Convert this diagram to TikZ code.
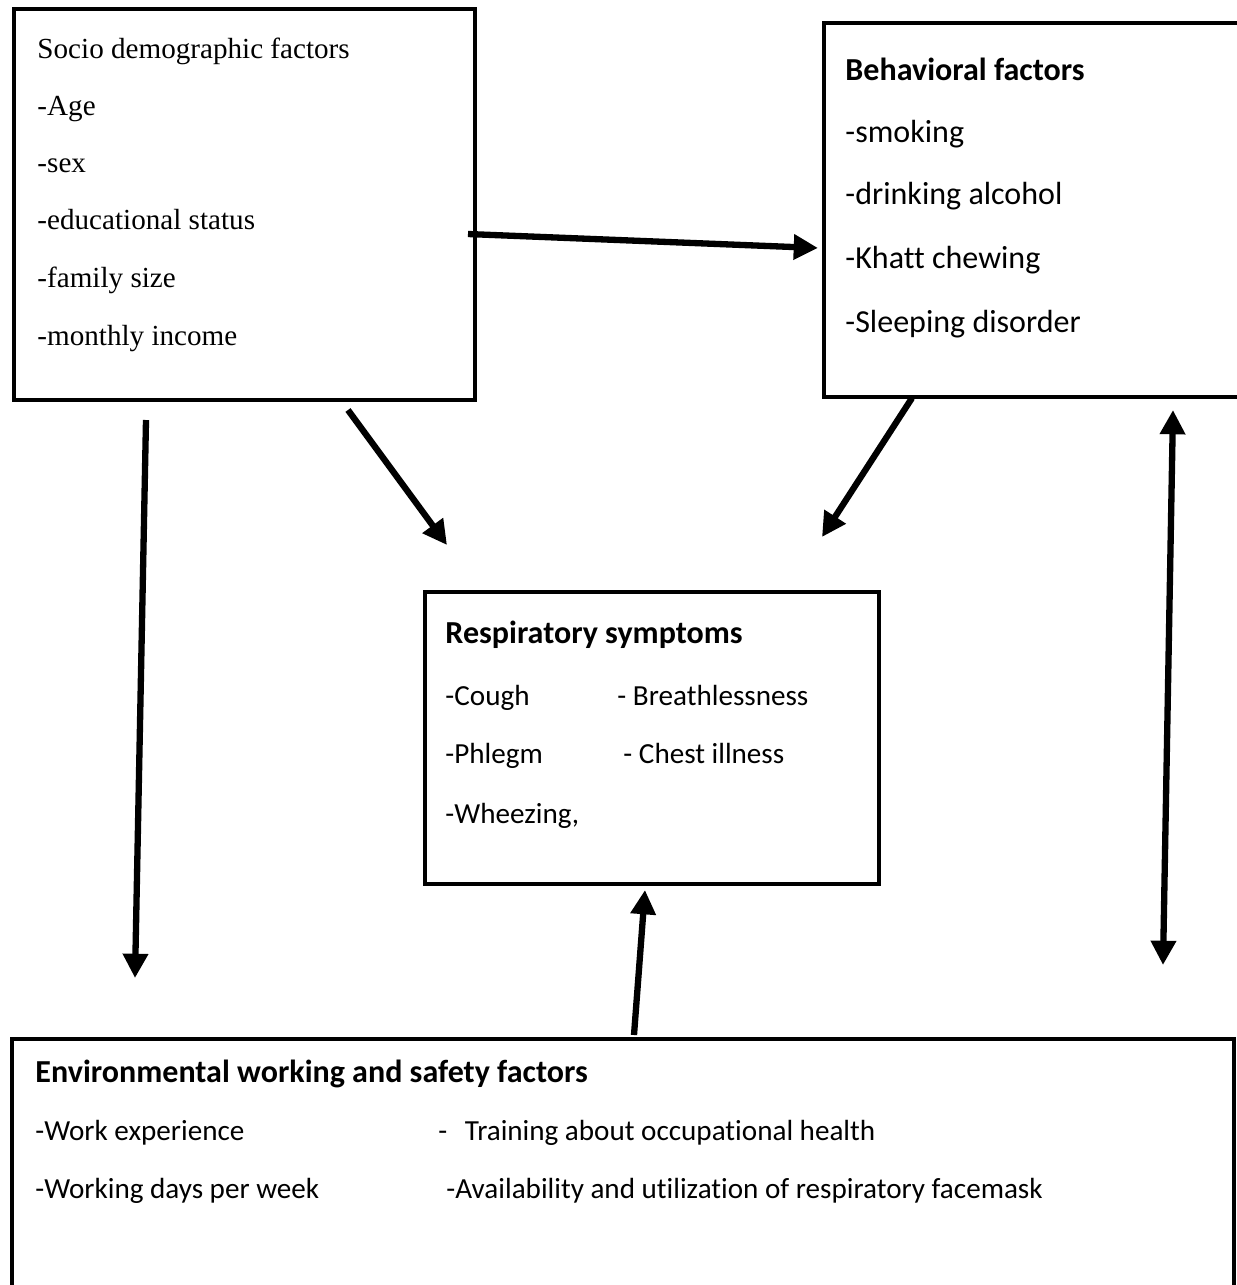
\documentclass[tikz,border=0pt]{standalone}
\usepackage{fontspec}
\setmainfont{Liberation Serif}
\newfontfamily\calibri[Ligatures=NoCommon]{Carlito}
\usetikzlibrary{arrows.meta}

\begin{document}
\begin{tikzpicture}[x=0.412pt,y=-0.412pt,
  box/.style={draw,line width=1.8pt,rectangle,anchor=north west,inner sep=0pt},
  ttxt/.style={anchor=base west,inner sep=0pt,font=\fontsize{12}{14}\selectfont},
  ctxt/.style={anchor=base west,inner sep=0pt,font=\calibri\fontsize{12}{14}\selectfont},
  htxt/.style={ctxt,font=\calibri\fontsize{13.2}{15}\selectfont},
  btxt/.style={ctxt,font=\calibri\bfseries\fontsize{13.2}{15}\selectfont},
  arr/.style={line width=2.6pt,-{Triangle[length=10pt,width=10pt]}},
  darr/.style={line width=2.6pt,{Triangle[length=10pt,width=10pt]}-{Triangle[length=10pt,width=10pt]}}]
  \useasboundingbox (0,0) rectangle (1237,1285);
  \clip (0,0) rectangle (1237,1285);

  % boxes
  \node[box,minimum width=461*0.412pt,minimum height=391*0.412pt] (socio) at (12,7) {};
  \node[box,minimum width=440*0.412pt,minimum height=374*0.412pt] (behav) at (822,21) {};
  \node[box,minimum width=454*0.412pt,minimum height=292*0.412pt] (resp) at (423,590) {};
  \node[box,minimum width=1222*0.412pt,minimum height=300*0.412pt] (envir) at (10,1037) {};

  % socio demographic factors
  \node[ttxt] (s0) at (37,58) {Socio demographic factors};
  \node[ttxt] (s1) at (37,115) {-Age};
  \node[ttxt] (s2) at (37,172) {-sex};
  \node[ttxt] (s3) at (37,229) {-educational status};
  \node[ttxt] (s4) at (37,287) {-family size};
  \node[ttxt] (s5) at (37,345) {-monthly income};

  % behavioral factors
  \node[btxt] (b0) at (845,80) {Behavioral factors};
  \node[htxt] (b1) at (845,142) {-smoking};
  \node[htxt] (b2) at (845,204) {-drinking alcohol};
  \node[htxt] (b3) at (845,268) {-Khatt chewing};
  \node[htxt] (b4) at (845,332) {-Sleeping disorder};

  % respiratory symptoms
  \node[btxt] (r0) at (445,643) {Respiratory symptoms};
  \node[ctxt] (r1) at (445,705) {-Cough};
  \node[ctxt] (r2) at (617,705) {- Breathlessness};
  \node[ctxt] (r3) at (445,763) {-Phlegm};
  \node[ctxt] (r4) at (623,763) {- Chest illness};
  \node[ctxt] (r5) at (445,823) {-Wheezing,};

  % environmental working and safety factors
  \node[btxt] (e0) at (35,1082) {Environmental working and safety factors};
  \node[ctxt] (e1) at (35,1140) {-Work experience};
  \node[ctxt] (e2) at (438,1140) {-\hspace{0.6em}Training about occupational health};
  \node[ctxt] (e3) at (35,1198) {-Working days per week};
  \node[ctxt] (e4) at (446,1198) {-Availability and utilization of respiratory facemask};

  % arrow ends
  \coordinate (sb1) at (468,234);  \coordinate (sb2) at (818,248);
  \coordinate (sr1) at (348,410);  \coordinate (sr2) at (447,545);
  \coordinate (br1) at (912,398);  \coordinate (br2) at (822,537);
  \coordinate (se1) at (146,420);  \coordinate (se2) at (135,978);
  \coordinate (be1) at (1173,410); \coordinate (be2) at (1163,965);
  \coordinate (er1) at (634,1035); \coordinate (er2) at (645,890);

  \draw[arr] (sb1) -- (sb2);
  \draw[arr] (sr1) -- (sr2);
  \draw[arr] (br1) -- (br2);
  \draw[arr] (se1) -- (se2);
  \draw[darr] (be1) -- (be2);
  \draw[arr] (er1) -- (er2);
\end{tikzpicture}
\end{document}
